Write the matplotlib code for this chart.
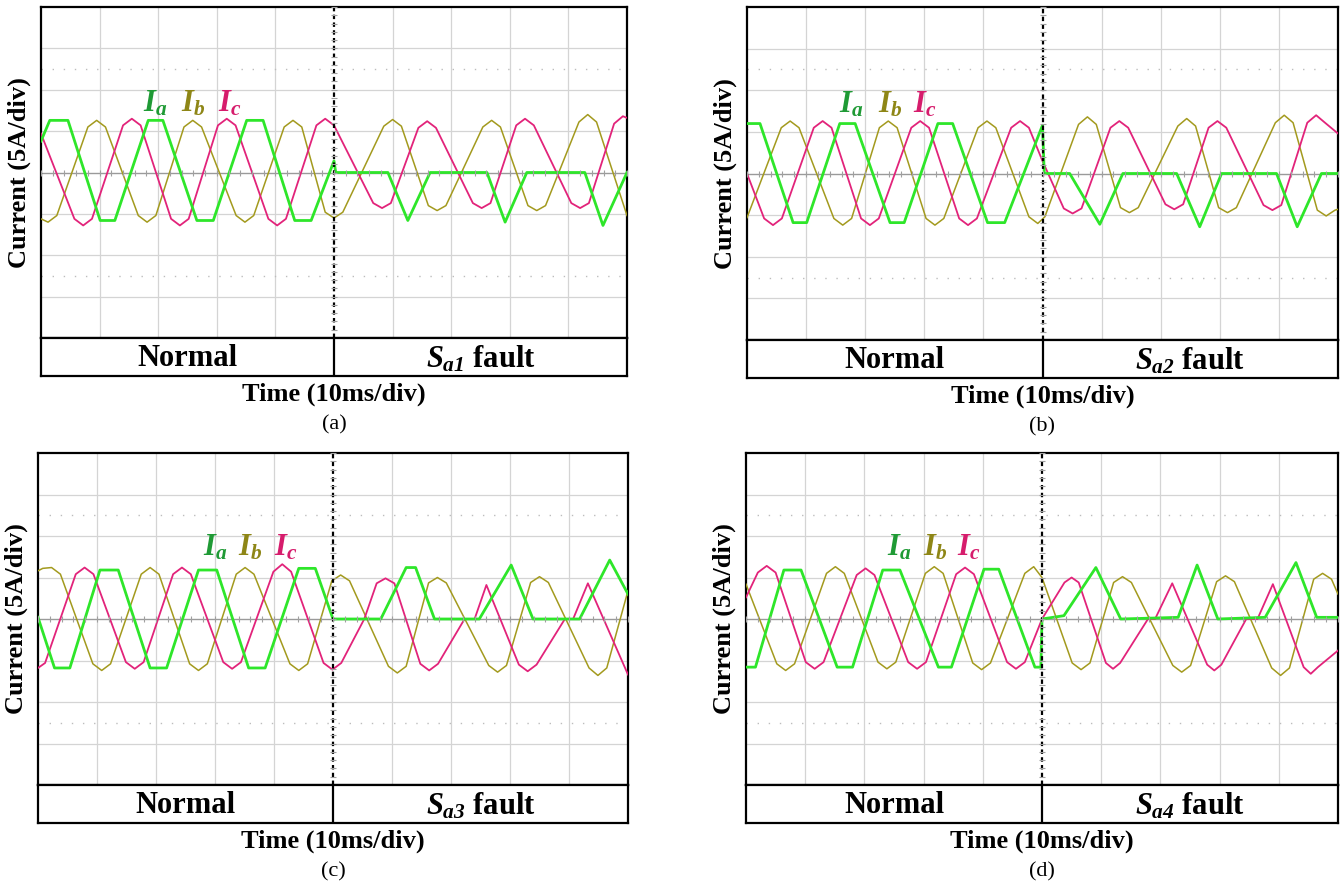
import matplotlib.pyplot as plt
from matplotlib.ticker import MultipleLocator, NullLocator

plt.rcParams['font.family'] = 'Liberation Serif'
plt.rcParams['mathtext.fontset'] = 'custom'
plt.rcParams['mathtext.it'] = 'Liberation Serif:italic:bold'
plt.rcParams['mathtext.sf'] = 'Liberation Serif:italic:bold'
plt.rcParams['mathtext.rm'] = 'Liberation Serif:bold'
plt.rcParams['mathtext.bf'] = 'Liberation Serif:bold'

# waveform vertices: (time ms, current A)
A_IA = [(0, 3.8), (1.5, 6.3), (4.6, 6.3), (10.1, -5.8), (12.6, -5.8), (18.3, 6.3), (20.8, 6.3),
        (26.6, -5.8), (29.4, -5.8), (35.1, 6.3), (37.9, 6.3), (43.3, -5.8), (46.1, -5.8),
        (50.0, 1.4), (50.3, 0.0), (59.2, 0.0), (62.6, -5.8), (66.4, 0.0), (76.1, 0.0),
        (79.2, -6.0), (82.9, 0.0), (92.8, 0.0), (95.9, -6.4), (100.0, 0.0)]
A_IB = [(0, -5.6), (1.2, -6.0), (2.7, -5.2), (8.0, 5.5), (9.5, 6.3), (11.0, 5.5), (16.6, -5.2),
        (18.1, -6.0), (19.6, -5.2), (24.4, 5.5), (25.9, 6.3), (27.4, 5.5), (33.3, -5.2),
        (34.8, -6.0), (36.3, -5.2), (41.5, 5.5), (43.0, 6.3), (44.5, 5.5), (48.5, -4.8),
        (50.0, -5.5), (51.5, -4.8), (58.5, 5.6), (60.0, 6.4), (61.5, 5.6), (66.1, -4.0),
        (67.6, -4.6), (69.1, -4.0), (75.4, 5.5), (76.9, 6.3), (78.4, 5.5), (83.1, -4.0),
        (84.6, -4.6), (86.1, -4.0), (91.8, 6.1), (93.3, 7.0), (94.8, 6.1), (100.0, -5.2)]
A_IC = [(0, 4.7), (5.7, -5.6), (7.2, -6.4), (8.7, -5.6), (14.0, 5.7), (15.5, 6.5), (17.0, 5.7),
        (22.2, -5.6), (23.7, -6.4), (25.2, -5.6), (30.2, 5.7), (31.7, 6.5), (33.2, 5.7),
        (38.8, -5.6), (40.3, -6.4), (41.8, -5.6), (47.0, 5.7), (48.5, 6.5), (50.0, 5.7),
        (56.7, -3.7), (58.2, -4.3), (59.7, -3.7), (64.4, 5.4), (65.9, 6.2), (67.4, 5.4),
        (73.7, -3.7), (75.2, -4.3), (76.7, -3.7), (81.1, 5.7), (82.6, 6.5), (84.1, 5.7),
        (90.5, -3.7), (92.0, -4.3), (93.5, -3.7), (97.8, 5.9), (99.3, 6.8), (100.0, 6.6)]

B_IA = [(0, 6.0), (2.2, 6.0), (7.8, -5.9), (10.1, -5.9), (15.7, 6.0), (18.3, 6.0), (24.2, -5.9),
        (26.6, -5.9), (32.3, 6.0), (34.8, 6.0), (40.7, -5.9), (43.6, -5.9), (50.0, 5.8),
        (50.3, 0.0), (54.6, 0.0), (59.7, -6.1), (63.6, 0.0), (72.7, 0.0), (76.6, -6.4),
        (80.3, 0.0), (89.6, 0.0), (93.1, -6.4), (97.2, 0.0), (100.0, 0.0)]
B_IB = [(0, -5.3), (5.8, 5.5), (7.3, 6.3), (8.8, 5.5), (14.7, -5.4), (16.2, -6.2), (17.7, -5.4),
        (22.4, 5.5), (23.9, 6.3), (25.4, 5.5), (30.3, -5.4), (31.8, -6.2), (33.3, -5.4),
        (39.1, 5.5), (40.6, 6.3), (42.1, 5.5), (47.7, -5.2), (49.2, -6.0), (50.4, -5.2),
        (56.1, 5.9), (57.6, 6.8), (59.1, 5.9), (63.2, -4.1), (64.7, -4.7), (66.2, -4.1),
        (72.9, 5.7), (74.4, 6.6), (75.9, 5.7), (79.8, -4.1), (81.3, -4.7), (82.8, -4.1),
        (89.4, 6.1), (90.9, 7.0), (92.4, 6.1), (96.5, -4.4), (98.0, -5.1), (99.5, -4.4),
        (100.0, -4.3)]
B_IC = [(0, 0.0), (2.9, -5.4), (4.4, -6.2), (5.9, -5.4), (11.3, 5.5), (12.8, 6.3), (14.3, 5.5),
        (19.3, -5.4), (20.8, -6.2), (22.3, -5.4), (27.8, 5.5), (29.3, 6.3), (30.8, 5.5),
        (35.9, -5.4), (37.4, -6.2), (38.9, -5.4), (44.7, 5.5), (46.2, 6.3), (47.7, 5.5),
        (50.0, 1.5), (53.6, -4.2), (55.1, -4.8), (56.6, -4.2), (61.5, 5.5), (63.0, 6.3),
        (64.5, 5.5), (70.8, -3.7), (72.3, -4.3), (73.8, -3.7), (78.1, 5.5), (79.6, 6.3),
        (81.1, 5.5), (87.4, -3.8), (88.9, -4.4), (90.4, -3.8), (94.8, 6.1), (96.3, 7.0),
        (97.8, 6.1), (100.0, 4.8)]

C_IA = [(0, 0.2), (2.8, -5.9), (5.4, -5.9), (10.5, 5.9), (13.6, 5.9), (19.0, -5.9), (21.8, -5.9),
        (27.2, 5.9), (30.3, 5.9), (35.7, -5.9), (38.5, -5.9), (44.2, 6.1), (47.0, 6.1),
        (50.0, 0.0), (58.1, 0.0), (62.4, 6.2), (64.0, 6.2), (67.2, 0.0), (74.8, 0.0),
        (80.2, 6.5), (83.9, 0.0), (91.8, 0.0), (96.9, 7.1), (100.0, 3.0)]
C_IB = [(0, 5.8), (0.8, 6.1), (2.3, 6.2), (3.8, 5.4), (9.3, -5.4), (10.8, -6.2), (12.3, -5.4),
        (17.5, 5.4), (19.0, 6.2), (20.5, 5.4), (25.7, -5.4), (27.2, -6.2), (28.7, -5.4),
        (33.6, 5.4), (35.1, 6.2), (36.6, 5.4), (42.7, -5.4), (44.2, -6.2), (45.7, -5.4),
        (49.8, 4.6), (51.3, 5.3), (52.8, 4.6), (59.4, -5.7), (60.9, -6.5), (62.4, -5.7),
        (66.2, 4.35), (67.7, 5.0), (69.2, 4.35), (76.4, -5.6), (77.9, -6.4), (79.4, -5.6),
        (83.5, 4.4), (85.0, 5.1), (86.5, 4.4), (93.4, -5.9), (94.9, -6.8), (96.4, -5.9),
        (100.0, 3.4)]
C_IC = [(0, -5.9), (1.2, -5.3), (6.4, 5.4), (7.9, 6.2), (9.4, 5.4), (14.9, -5.2), (16.4, -6.0),
        (17.9, -5.2), (22.9, 5.4), (24.4, 6.2), (25.9, 5.4), (31.4, -5.2), (32.9, -6.0),
        (34.4, -5.2), (39.9, 5.7), (41.4, 6.6), (42.9, 5.7), (48.4, -5.3), (49.9, -6.1),
        (51.4, -5.3), (55.3, 0.0), (57.4, 4.3), (58.9, 4.9), (60.4, 4.3), (64.8, -5.4),
        (66.3, -6.2), (67.8, -5.4), (72.3, 0.0), (74.0, 0.0), (76.0, 4.1), (81.5, -5.5),
        (83.0, -6.3), (84.5, -5.5), (89.3, 0.0), (90.7, 0.0), (93.2, 4.3), (100.0, -6.7)]

D_IA = [(0, -5.8), (1.6, -5.8), (6.4, 5.9), (9.3, 5.9), (15.4, -5.8), (18.0, -5.8), (23.1, 5.9),
        (26.0, 5.9), (32.5, -5.8), (34.7, -5.8), (40.2, 6.0), (42.7, 6.0), (48.8, -5.8),
        (49.8, -5.8), (50.0, 0.0), (53.7, 0.4), (59.1, 6.2), (63.3, 0.0), (73.0, 0.2),
        (76.2, 6.5), (79.7, 0.0), (87.7, 0.2), (92.9, 6.8), (96.4, 0.2), (100.0, 0.2)]
D_IB = [(0, 4.2), (5.2, -5.4), (6.7, -6.2), (8.2, -5.4), (13.6, 5.5), (15.1, 6.3), (16.6, 5.5),
        (22.3, -5.2), (23.8, -6.0), (25.3, -5.2), (30.3, 5.5), (31.8, 6.3), (33.3, 5.5),
        (38.3, -5.3), (39.8, -6.1), (41.3, -5.3), (47.1, 5.5), (48.6, 6.3), (50.0, 5.0),
        (55.1, -5.3), (56.6, -6.1), (58.1, -5.3), (62.1, 4.4), (63.6, 5.1), (65.1, 4.4),
        (72.1, -5.6), (73.6, -6.4), (75.1, -5.6), (79.5, 4.5), (81.0, 5.2), (82.5, 4.5),
        (88.8, -5.9), (90.3, -6.8), (91.8, -5.9), (95.9, 4.8), (97.4, 5.5), (98.9, 4.8),
        (100.0, 3.0)]
D_IC = [(0, 2.6), (2.0, 5.6), (3.5, 6.4), (5.0, 5.6), (10.1, -5.2), (11.6, -6.0), (13.1, -5.2),
        (18.7, 5.3), (20.2, 6.1), (21.7, 5.3), (27.4, -5.2), (28.9, -6.0), (30.4, -5.2),
        (35.5, 5.4), (37.0, 6.2), (38.5, 5.4), (44.1, -5.2), (45.6, -6.0), (47.1, -5.2),
        (50.0, 0.0), (53.8, 4.4), (55.0, 5.0), (56.2, 4.4), (60.8, -5.3), (62.0, -6.0),
        (63.2, -5.3), (67.9, 0.0), (69.1, 0.0), (72.0, 4.3), (77.9, -5.5), (79.1, -6.2),
        (80.3, -5.5), (84.5, 0.0), (86.4, 0.0), (89.0, 4.2), (94.2, -5.8), (95.4, -6.6),
        (96.6, -5.8), (100.0, -3.8)]

PANEL_NAMES = ["(a)", "(b)", "(c)", "(d)"]
FAULT_LABELS = [r"$S_{\mathsf{a1}}$ fault", r"$S_{\mathsf{a2}}$ fault",
                r"$S_{\mathsf{a3}}$ fault", r"$S_{\mathsf{a4}}$ fault"]
# time position of the I_a / I_b / I_c labels in each panel (ms)
LABEL_T = [(19.5, 25.9, 32.2), (17.7, 24.2, 30.1), (30.1, 36.0, 42.0), (25.8, 32.0, 37.6)]
LABEL_Y = [8.3, 8.3, 8.6, 8.6]

WAVES = [(A_IA, A_IB, A_IC), (B_IA, B_IB, B_IC), (C_IA, C_IB, C_IC), (D_IA, D_IB, D_IC)]

# pixel boxes: left, top, right, plot bottom, band bottom
BOXES = [(41, 7, 627, 338, 376), (747, 7, 1338, 340, 378),
         (38, 453, 628, 785, 823), (746, 453, 1338, 785, 823)]

W, H = 1342, 884
LINE_COLORS = ["#2ee62a", "#a39a1e", "#e2237a"]
TEXT_COLORS = ["#1f9a35", "#8e8616", "#d61c6c"]

fig = plt.figure(figsize=(W / 100, H / 100), dpi=100)

for k in range(4):
    left, top, right, bot, band = BOXES[k]
    pos = [left / W, 1 - bot / H, (right - left) / W, (bot - top) / H]
    ax = fig.add_axes(pos)
    ax.set_xlim(0, 100)
    ax.set_ylim(-20, 20)

    # scope graticule
    for x in range(10, 100, 10):
        if x != 50:
            ax.axvline(x, color="#d4d4d4", lw=0.9, zorder=1)
    for y in (-15, -10, -5, 5, 10, 15):
        ax.axhline(y, color="#d4d4d4", lw=0.9, zorder=1)
    ax.axhline(0, color="#9a9a9a", lw=1.0, zorder=1)
    for y in (-12.5, 12.5):
        ax.axhline(y, color="#bdbdbd", lw=1.0, ls=(0, (1, 7)), zorder=1)

    ia, ib, ic = WAVES[k]
    for wave, col, lw in ((ib, LINE_COLORS[1], 1.1), (ic, LINE_COLORS[2], 1.3), (ia, LINE_COLORS[0], 2.0)):
        t, v = zip(*wave)
        ax.plot(t, v, color=col, lw=lw, zorder=3)

    ax.axvline(50, color="black", lw=1.6, ls=(0, (2, 1.5)), zorder=4)

    for name, tx, col in zip(("$I_a$", "$I_b$", "$I_c$"), LABEL_T[k], TEXT_COLORS):
        ax.text(tx, LABEL_Y[k], name, color=col, fontsize=22, ha="center", va="center", zorder=5)

    ax.set_xticks([])
    ax.set_yticks([])
    for s in ax.spines.values():
        s.set_linewidth(1.6)

    # small graticule ticks on the centre lines
    tk = fig.add_axes(pos, frameon=False)
    tk.set_xlim(0, 100)
    tk.set_ylim(-20, 20)
    tk.spines["bottom"].set_position(("data", 0))
    tk.spines["left"].set_position(("data", 50))
    tk.xaxis.set_major_locator(NullLocator())
    tk.yaxis.set_major_locator(NullLocator())
    tk.xaxis.set_minor_locator(MultipleLocator(2))
    tk.yaxis.set_minor_locator(MultipleLocator(1))
    tk.tick_params(which="minor", direction="inout", length=4, width=0.8, color="#a0a0a0",
                   top=False, right=False)
    tk.patch.set_visible(False)

    # status band under the scope trace
    bx = fig.add_axes([left / W, 1 - band / H, (right - left) / W, (band - bot) / H])
    bx.set_xlim(0, 100)
    bx.set_ylim(0, 1)
    bx.axvline(50, color="black", lw=1.6)
    bx.text(25, 0.45, "Normal", fontsize=22, fontweight="bold", ha="center", va="center")
    bx.text(75, 0.45, FAULT_LABELS[k], fontsize=22, fontweight="bold", ha="center", va="center")
    bx.set_xticks([])
    bx.set_yticks([])
    for s in bx.spines.values():
        s.set_linewidth(1.6)

    mid_y = 1 - (top + bot) / 2 / H
    fig.text((left - 22) / W, mid_y, "Current (5A/div)", rotation=90, fontsize=19,
             fontweight="bold", ha="center", va="center")
    cx = (left + right) / 2 / W
    fig.text(cx, 1 - (band + 18) / H, "Time (10ms/div)", fontsize=19, fontweight="bold",
             ha="center", va="center")
    fig.text(cx, 1 - (band + 49) / H, PANEL_NAMES[k], fontsize=16, ha="center", va="center")

fig.savefig("out.png", dpi=100)
